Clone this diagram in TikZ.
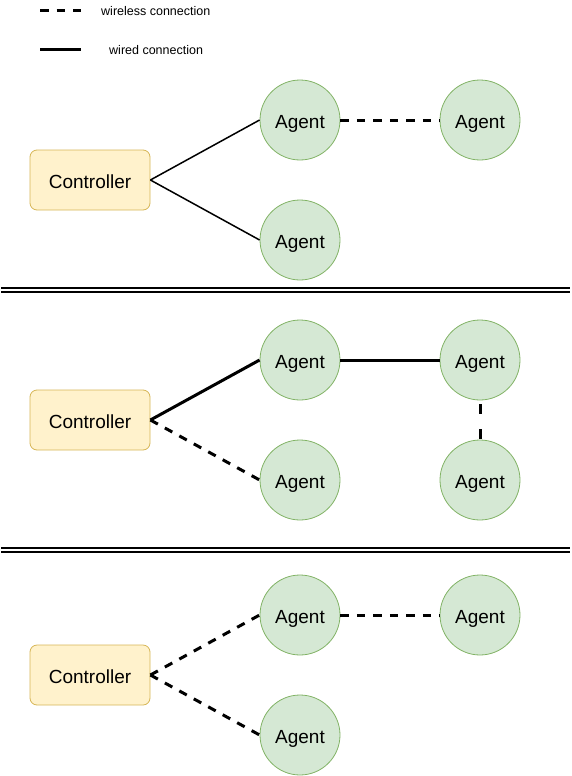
\documentclass[tikz,border=0pt]{standalone}
\usepackage{fontspec}
\setmainfont{Liberation Sans}
\definecolor{ctrlfill}{HTML}{FFF2CC}
\definecolor{ctrldraw}{HTML}{D6B656}
\definecolor{agfill}{HTML}{D5E8D4}
\definecolor{agdraw}{HTML}{82B366}
\begin{document}
\begin{tikzpicture}[x=1pt,y=-1pt,
  ctrl/.style={draw=ctrldraw,fill=ctrlfill,rounded corners=7pt,minimum width=120pt,minimum height=60pt,inner sep=0pt,line width=0.8pt,font=\fontsize{19}{22}\selectfont,text height=16.5pt,text depth=0pt},
  agent/.style={circle,draw=agdraw,fill=agfill,minimum size=80pt,inner sep=0pt,line width=0.8pt,font=\fontsize{19}{22}\selectfont,text height=16.5pt,text depth=0pt},
  thinwire/.style={line width=1.5pt},
  wire/.style={line width=3pt},
  wireless/.style={line width=3pt,dash pattern=on 8.5pt off 8pt},
  legtext/.style={anchor=west,inner sep=0pt,font=\fontsize{12.5}{15}\selectfont,text height=9pt,text depth=0pt},
  sep/.style={line width=1.3pt}]
\useasboundingbox (0,0) rectangle (571,776);
% legend
\coordinate (l1a) at (40,11); \coordinate (l1b) at (81,11);
\coordinate (l2a) at (40,50); \coordinate (l2b) at (81,50);
\draw[wireless] (l1a) -- (l1b);
\draw[wire] (l2a) -- (l2b);
\node[legtext] (t1) at (101,11) {wireless connection};
\node[legtext] (t2) at (109,50) {wired connection};
% section 1
\node[ctrl] (c1) at (90,180) {Controller};
\node[agent] (a11) at (300,120) {Agent};
\node[agent] (a12) at (480,120) {Agent};
\node[agent] (a13) at (300,240) {Agent};
\draw[thinwire] (c1.east) -- (a11.west);
\draw[thinwire] (c1.east) -- (a13.west);
\draw[wireless] (a11.east) -- (a12.west);
% separators
\coordinate (s1a) at (1,288); \coordinate (s1b) at (570,288);
\coordinate (s2a) at (1,292); \coordinate (s2b) at (570,292);
\draw[sep] (s1a) -- (s1b);
\draw[sep] (s2a) -- (s2b);
% section 2
\node[ctrl] (c2) at (90,420) {Controller};
\node[agent] (a21) at (300,360) {Agent};
\node[agent] (a22) at (480,360) {Agent};
\node[agent] (a23) at (300,480) {Agent};
\node[agent] (a24) at (480,480) {Agent};
\draw[wire] (c2.east) -- (a21.west);
\draw[wireless] (c2.east) -- (a23.west);
\draw[wire] (a21.east) -- (a22.west);
\draw[wireless,dash pattern=on 10pt off 15pt,dash phase=-4pt] (a22.south) -- (a24.north);
% separators
\coordinate (s3a) at (1,548); \coordinate (s3b) at (570,548);
\coordinate (s4a) at (1,552); \coordinate (s4b) at (570,552);
\draw[sep] (s3a) -- (s3b);
\draw[sep] (s4a) -- (s4b);
% section 3
\node[ctrl] (c3) at (90,675) {Controller};
\node[agent] (a31) at (300,615) {Agent};
\node[agent] (a32) at (480,615) {Agent};
\node[agent] (a33) at (300,735) {Agent};
\draw[wireless] (c3.east) -- (a31.west);
\draw[wireless] (c3.east) -- (a33.west);
\draw[wireless] (a31.east) -- (a32.west);
\end{tikzpicture}
\end{document}
